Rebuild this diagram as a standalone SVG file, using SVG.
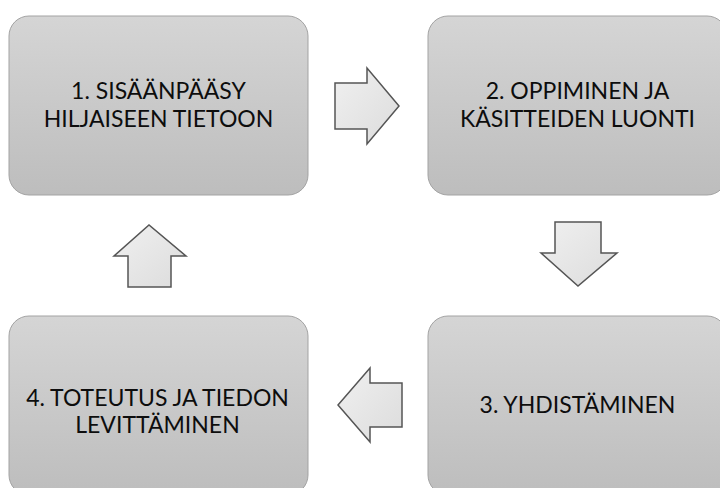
<svg xmlns="http://www.w3.org/2000/svg" width="720" height="488" viewBox="0 0 720 488">
  <defs>
    <linearGradient id="boxFill" x1="0" y1="0" x2="0" y2="1">
      <stop offset="0" stop-color="#d5d5d5"/>
      <stop offset="1" stop-color="#bdbdbd"/>
    </linearGradient>
    <linearGradient id="arrowFill" x1="0" y1="0" x2="1" y2="1">
      <stop offset="0" stop-color="#f0f0f0"/>
      <stop offset="1" stop-color="#dcdcdc"/>
    </linearGradient>
  </defs>
  <style>
    .box { fill: url(#boxFill); stroke: #a3a3a3; stroke-width: 1; }
    .label { font-family: Lato, "Liberation Sans", sans-serif; font-size: 23px; fill: #0d0d0d; text-anchor: middle; }
    .arrow { fill: url(#arrowFill); stroke: #555555; stroke-width: 1.5; stroke-linejoin: miter; }
  </style>
  <rect width="720" height="488" fill="#ffffff"/>

  <g id="step1">
    <rect class="box" x="9" y="16" width="299" height="179" rx="20" ry="20"/>
    <text class="label" x="158.5" y="99">1. SISÄÄNPÄÄSY</text>
    <text class="label" x="158.5" y="127">HILJAISEEN TIETOON</text>
  </g>

  <g id="step2">
    <rect class="box" x="428" y="16" width="299" height="179" rx="20" ry="20"/>
    <text class="label" x="577.5" y="99">2. OPPIMINEN JA</text>
    <text class="label" x="577.5" y="127">KÄSITTEIDEN LUONTI</text>
  </g>

  <g id="step3">
    <rect class="box" x="428" y="316" width="299" height="179" rx="20" ry="20"/>
    <text class="label" x="577.5" y="413">3. YHDISTÄMINEN</text>
  </g>

  <g id="step4">
    <rect class="box" x="9" y="316" width="299" height="179" rx="20" ry="20"/>
    <text class="label" x="157.5" y="406">4. TOTEUTUS JA TIEDON</text>
    <text class="label" x="157.5" y="433">LEVITTÄMINEN</text>
  </g>

  <g id="connectors">
    <!-- step 1 to step 2 -->
    <polygon class="arrow" points="335,83 367,83 367,68 399,106 367,144 367,129 335,129"/>
    <!-- step 2 to step 3 -->
    <polygon class="arrow" points="555,222 601,222 601,253 617,253 578,286 541,253 555,253"/>
    <!-- step 3 to step 4 -->
    <polygon class="arrow" points="402,383 370,383 370,368 338,405 370,442 370,427 402,427"/>
    <!-- step 4 back to step 1 -->
    <polygon class="arrow" points="128,287 171,287 171,256 186,256 149,225 114,256 128,256"/>
  </g>
</svg>
